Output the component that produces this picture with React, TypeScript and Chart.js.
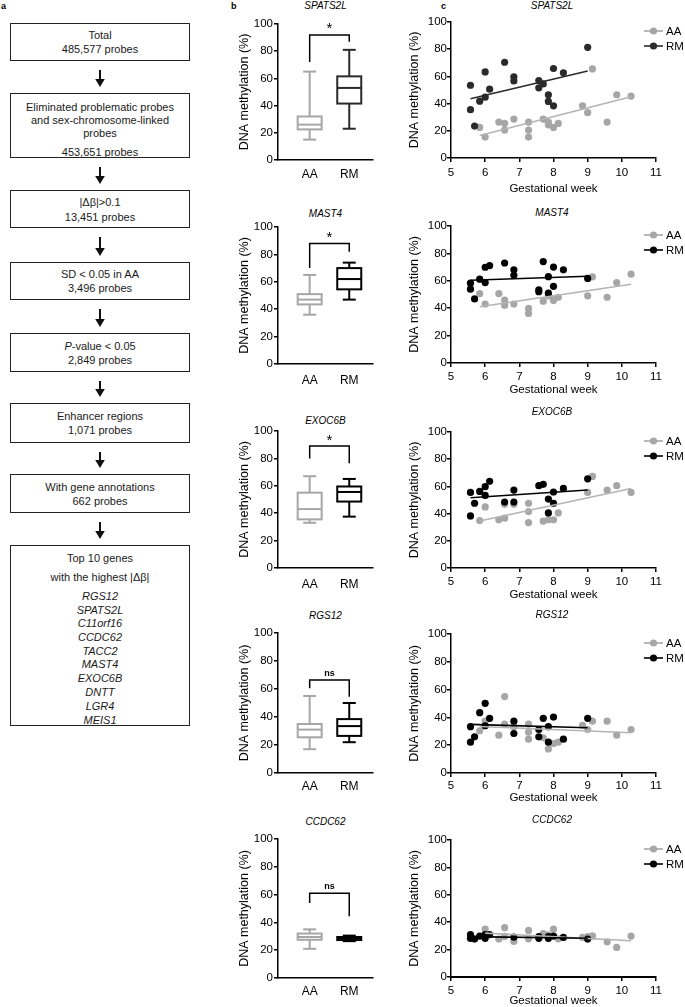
import React, { useEffect, useRef } from 'react';
import { Chart, registerables } from 'chart.js';

Chart.register(...registerables);

const FONT = "'Liberation Sans', Arial, Helvetica, sans-serif";
Chart.defaults.font.family = FONT;
Chart.defaults.color = '#000';

// ---------- data ----------
const GROUPS = ['AA', 'RM'];
const GENES = ['SPATS2L', 'MAST4', 'EXOC6B', 'RGS12', 'CCDC62'];

// box stats: [min, q1, median, q3, max]
const SPATS2L_BOX_AA = [15, 22.5, 26, 32, 65];
const SPATS2L_BOX_RM = [23, 41.5, 53, 61.5, 81];
const MAST4_BOX_AA = [36, 43.5, 47, 51, 65];
const MAST4_BOX_RM = [47, 54.5, 62, 70, 74];
const EXOC6B_BOX_AA = [33, 35.5, 43, 55, 67];
const EXOC6B_BOX_RM = [37.5, 48.5, 55.5, 59.5, 65];
const RGS12_BOX_AA = [17, 25.5, 31, 35, 55];
const RGS12_BOX_RM = [22, 26.5, 33.5, 38.5, 50];
const CCDC62_BOX_AA = [21, 27.5, 29.5, 32, 35];
const CCDC62_BOX_RM = [26.5, 27.3, 28.5, 29.5, 30.5];

// significance brackets: [top, left leg end, right leg end]
const SPATS2L_BRACKET = [92, 72, 87];
const MAST4_BRACKET = [88, 70, 82];
const EXOC6B_BRACKET = [89, 80, 76.5];
const RGS12_BRACKET = [66.5, 60.5, 54.5];
const CCDC62_BRACKET = [61, 54, 44.5];
const SIGNIF = ['*', '*', '*', 'ns', 'ns'];

// scatter points: [gestational week, methylation %]
const SPATS2L_RM = [[5.57,53.5],[5.57,35.5],[5.69,23.5],[5.84,41.8],[6.0,63.3],[6.0,44.7],[6.13,50.6],[6.57,70.4],[6.84,59.7],[6.84,56.7],[7.57,57],[7.57,51.6],[7.7,54.5],[7.85,46.5],[7.85,41.6],[8.0,65.8],[8.0,38.4],[8.29,62.6],[9.0,81.4]];
const SPATS2L_AA = [[5.84,22.5],[6.0,15.4],[6.4,26.4],[6.57,25.4],[6.57,20.5],[6.84,28.6],[7.27,26.4],[7.27,20.5],[7.27,15.4],[7.7,28.6],[7.85,26.4],[7.85,24.4],[8.0,22.5],[8.14,25.4],[8.85,38.4],[9.0,33.3],[9.14,65.5],[9.57,26.4],[9.85,46.5],[10.27,45.5]];
const MAST4_RM = [[5.57,58.3],[5.57,53.9],[5.69,46.8],[5.84,61.2],[6.0,69.9],[6.0,58.7],[6.13,71.1],[6.57,73],[6.84,68],[6.84,64],[7.57,53.4],[7.57,52],[7.7,74],[7.85,63],[7.85,51],[8.0,70],[8.0,56],[8.29,68],[9.0,61.7]];
const MAST4_AA = [[5.84,50.7],[6.0,43],[6.4,50.7],[6.57,46],[6.57,42.2],[6.84,43],[7.27,39.8],[7.27,36.2],[7.7,45.1],[7.85,49],[8.0,46.8],[8.0,45.6],[8.14,48],[9.0,49],[9.14,62.9],[9.57,48],[9.85,58.7],[10.27,64.8]];
const EXOC6B_RM = [[5.57,55.6],[5.57,38.3],[5.69,47.6],[5.84,56.3],[6.0,59.8],[6.0,53.4],[6.13,63.7],[6.57,48.5],[6.84,57.3],[6.84,48.5],[7.57,60.5],[7.7,61.5],[7.85,50.7],[7.85,40.5],[8.0,55.9],[8.0,47.6],[8.29,58.5],[9.0,65.6]];
const EXOC6B_AA = [[5.84,34.9],[6.0,44.9],[6.4,35.4],[6.57,36.6],[6.57,46.8],[6.84,46.8],[7.27,47.6],[7.27,41.5],[7.27,33.4],[7.7,34.4],[7.85,35.4],[8.0,35.4],[8.14,40.5],[9.0,55.6],[9.14,67.3],[9.57,57.3],[9.85,60.5],[10.27,55.6]];
const RGS12_RM = [[5.57,22.2],[5.57,33.3],[5.69,26],[5.84,43.4],[6.0,50.1],[6.0,34],[6.13,39.3],[6.84,37.3],[6.84,28.4],[7.57,31.3],[7.57,26],[7.7,39.3],[7.85,33.3],[7.85,22.2],[8.0,40.2],[8.29,24.3],[9.0,39.3]];
const RGS12_AA = [[5.84,30.4],[6.0,37.3],[6.4,27.2],[6.57,55],[6.57,35.2],[6.84,33.3],[7.27,35.2],[7.27,29.4],[7.27,24.3],[7.7,25.3],[7.85,17.3],[8.0,21.2],[8.14,22.2],[8.85,34.2],[9.0,31.3],[9.14,37.3],[9.57,37.3],[9.85,27.2],[10.27,31.3]];
const CCDC62_RM = [[5.57,31],[5.57,28.2],[5.69,27.7],[5.84,29.9],[6.0,28.2],[6.0,31],[6.13,31],[6.84,29.1],[7.57,28.2],[7.57,29.5],[7.85,28.2],[7.85,29.5],[8.0,29.9],[8.29,28.9],[9.0,27.7]];
const CCDC62_AA = [[6.0,35],[6.4,27.7],[6.57,36],[6.57,29.6],[6.84,26],[7.27,34],[7.27,27.9],[7.7,31.6],[7.85,30.8],[8.0,35],[8.14,27.9],[8.85,28.9],[9.0,29.4],[9.14,30],[9.57,25.7],[9.85,21.6],[10.27,29.9]];

// regression line end points
const SPATS2L_FIT_RM = [[5.57,43.5],[9.0,64]];
const SPATS2L_FIT_AA = [[5.84,16.5],[10.27,45]];
const MAST4_FIT_RM = [[5.57,60.4],[9.0,63.3]];
const MAST4_FIT_AA = [[5.84,41],[10.27,57.5]];
const EXOC6B_FIT_RM = [[5.57,51.7],[9.0,57.3]];
const EXOC6B_FIT_AA = [[5.84,34.5],[10.27,58.5]];
const RGS12_FIT_RM = [[5.57,35],[9.0,32.5]];
const RGS12_FIT_AA = [[5.84,33.5],[10.27,29]];
const CCDC62_FIT_RM = [[5.57,29.5],[9.0,28.3]];
const CCDC62_FIT_AA = [[6.0,32],[10.27,26.5]];

const BOX_AA = [SPATS2L_BOX_AA, MAST4_BOX_AA, EXOC6B_BOX_AA, RGS12_BOX_AA, CCDC62_BOX_AA];
const BOX_RM = [SPATS2L_BOX_RM, MAST4_BOX_RM, EXOC6B_BOX_RM, RGS12_BOX_RM, CCDC62_BOX_RM];
const BRACKETS = [SPATS2L_BRACKET, MAST4_BRACKET, EXOC6B_BRACKET, RGS12_BRACKET, CCDC62_BRACKET];
const PTS_AA = [SPATS2L_AA, MAST4_AA, EXOC6B_AA, RGS12_AA, CCDC62_AA];
const PTS_RM = [SPATS2L_RM, MAST4_RM, EXOC6B_RM, RGS12_RM, CCDC62_RM];
const FIT_AA = [SPATS2L_FIT_AA, MAST4_FIT_AA, EXOC6B_FIT_AA, RGS12_FIT_AA, CCDC62_FIT_AA];
const FIT_RM = [SPATS2L_FIT_RM, MAST4_FIT_RM, EXOC6B_FIT_RM, RGS12_FIT_RM, CCDC62_FIT_RM];

// ---------- layout / style ----------
const AA_COLOR = '#a6a6a6';
const AA_LINE = '#b4b4b4';
const RM_COLORS = ['#2a2a2a', '#000000', '#000000', '#000000', '#000000'];

const B_ROWS = [
  { y100: 24, y0: 160, t: 6, lab: 15 },
  { y100: 227, y0: 364, t: 214, lab: 17 },
  { y100: 431, y0: 568, t: 421, lab: 17 },
  { y100: 633, y0: 773, t: 616, lab: 14 },
  { y100: 839, y0: 978, t: 822, lab: 14 },
];
const C_ROWS = [
  { y100: 22, y0: 158, t: 6, tick: 15, ttl: 31 },
  { y100: 226, y0: 363, t: 213, tick: 14, ttl: 27 },
  { y100: 432, y0: 568, t: 412, tick: 14, ttl: 27 },
  { y100: 634, y0: 773, t: 615, tick: 13, ttl: 25 },
  { y100: 840, y0: 977, t: 820, tick: 14, ttl: 24 },
];

const toXY = (arr: number[][]) => arr.map(([x, y]) => ({ x, y }));

function CanvasChart({ left, top, width, height, make }: any) {
  const ref = useRef<HTMLCanvasElement | null>(null);
  useEffect(() => {
    const chart = new Chart(ref.current as HTMLCanvasElement, make());
    return () => chart.destroy();
  }, []);
  return (
    <div style={{ position: 'absolute', left, top, width, height }}>
      <canvas ref={ref} width={width} height={height} style={{ width, height, display: 'block' }} />
    </div>
  );
}

function boxPlugin(i: number) {
  return {
    id: 'boxPlot',
    afterDatasetsDraw(chart: any) {
      const { ctx, scales } = chart;
      const xs = scales.x, ys = scales.y;
      const py = (v: number) => ys.getPixelForValue(v);
      [BOX_AA[i], BOX_RM[i]].forEach((s, k) => {
        const cx = xs.getPixelForValue(k + 1);
        const col = k === 0 ? AA_COLOR : RM_COLORS[i];
        const half = 12, cap = 6.5;
        ctx.save();
        ctx.strokeStyle = col;
        ctx.lineWidth = 2;
        ctx.lineCap = 'butt';
        const seg = (x1: number, y1: number, x2: number, y2: number) => {
          ctx.beginPath(); ctx.moveTo(x1, y1); ctx.lineTo(x2, y2); ctx.stroke();
        };
        ctx.strokeRect(cx - half, py(s[3]), half * 2, py(s[1]) - py(s[3]));
        seg(cx, py(s[4]), cx, py(s[3]));
        seg(cx, py(s[1]), cx, py(s[0]));
        seg(cx - cap, py(s[4]), cx + cap, py(s[4]));
        seg(cx - cap, py(s[0]), cx + cap, py(s[0]));
        seg(cx - half, py(s[2]), cx + half, py(s[2]));
        ctx.restore();
      });
      const b = BRACKETS[i];
      const x1 = xs.getPixelForValue(1), x2 = xs.getPixelForValue(2);
      const yt = py(b[0]);
      ctx.save();
      ctx.strokeStyle = '#000';
      ctx.lineWidth = 1.5;
      ctx.beginPath();
      ctx.moveTo(x1, py(b[1]));
      ctx.lineTo(x1, yt);
      ctx.lineTo(x2, yt);
      ctx.lineTo(x2, py(b[2]));
      ctx.stroke();
      ctx.fillStyle = '#000';
      ctx.textAlign = 'center';
      ctx.textBaseline = 'alphabetic';
      const lab = SIGNIF[i];
      if (lab === '*') {
        ctx.font = `15px ${FONT}`;
        ctx.fillText(lab, (x1 + x2) / 2, yt - 1.5);
      } else {
        ctx.font = `bold 9px ${FONT}`;
        ctx.fillText(lab, (x1 + x2) / 2, yt - 4);
      }
      ctx.restore();
    },
  };
}

function boxConfig(i: number) {
  const r = B_ROWS[i];
  return {
    type: 'scatter',
    data: {
      datasets: [
        {
          data: [
            { x: 1, y: BOX_AA[i][2] },
            { x: 2, y: BOX_RM[i][2] },
          ],
          pointRadius: 0,
          showLine: false,
        },
      ],
    },
    options: {
      responsive: false,
      animation: false,
      events: [],
      layout: { padding: { top: 12, right: 7, left: 0, bottom: 0 } },
      plugins: { legend: { display: false }, tooltip: { enabled: false } },
      scales: {
        x: {
          type: 'linear',
          min: 0.2,
          max: 2.6,
          offset: false,
          afterBuildTicks: (s: any) => { s.ticks = [{ value: 1 }, { value: 2 }]; },
          ticks: {
            callback: (v: number) => GROUPS[Math.round(v) - 1] ?? '',
            font: { size: 12 },
            color: '#000',
            padding: r.lab - 7.2,
            maxRotation: 0,
            autoSkip: false,
          },
          grid: { display: true, drawOnChartArea: false, drawTicks: false, color: '#000', lineWidth: 1.5 },
          border: { display: true, color: '#000', width: 1.5 },
          afterFit: (s: any) => { s.height = 34; },
        },
        y: {
          min: 0,
          max: 100,
          ticks: { stepSize: 20, font: { size: 11.5 }, color: '#000', padding: 1 },
          grid: { drawOnChartArea: false, drawTicks: true, tickLength: 4, color: '#000', lineWidth: 1.5 },
          border: { display: true, color: '#000', width: 1.5 },
          title: { display: true, text: 'DNA methylation (%)', font: { size: 12.5 }, color: '#000', padding: { top: 7.5, bottom: 0 } },
          afterFit: (s: any) => { s.width = 48; },
        },
      },
    },
    plugins: [boxPlugin(i)],
  };
}

function legendPlugin(i: number) {
  return {
    id: 'pairLegend',
    afterDraw(chart: any) {
      const { ctx } = chart;
      const top = chart.chartArea.top;
      const items: [string, string, number][] = [
        ['AA', AA_COLOR, top + 9],
        ['RM', RM_COLORS[i], top + 24],
      ];
      items.forEach(([t, c, y]) => {
        ctx.save();
        ctx.strokeStyle = c;
        ctx.fillStyle = c;
        ctx.lineWidth = 1.6;
        ctx.beginPath(); ctx.moveTo(254, y); ctx.lineTo(273, y); ctx.stroke();
        ctx.beginPath(); ctx.arc(263.5, y, 3.6, 0, Math.PI * 2); ctx.fill();
        ctx.fillStyle = '#000';
        ctx.font = `11.5px ${FONT}`;
        ctx.textBaseline = 'middle';
        ctx.textAlign = 'left';
        ctx.fillText(t, 276, y + 0.5);
        ctx.restore();
      });
    },
  };
}

function scatterConfig(i: number) {
  const r = C_ROWS[i];
  const rm = RM_COLORS[i];
  const xh = 48;
  return {
    type: 'scatter',
    data: {
      datasets: [
        { data: toXY(FIT_RM[i]), showLine: true, borderColor: rm, borderWidth: 1.6, pointRadius: 0, fill: false },
        { data: toXY(FIT_AA[i]), showLine: true, borderColor: AA_LINE, borderWidth: 1.6, pointRadius: 0, fill: false },
        { data: toXY(PTS_RM[i]), backgroundColor: rm, borderColor: rm, borderWidth: 0, pointRadius: 3.6 },
        { data: toXY(PTS_AA[i]), backgroundColor: AA_COLOR, borderColor: AA_COLOR, borderWidth: 0, pointRadius: 3.6 },
      ],
    },
    options: {
      responsive: false,
      animation: false,
      events: [],
      layout: { padding: { top: 12, right: 29, left: 0, bottom: 0 } },
      plugins: { legend: { display: false }, tooltip: { enabled: false } },
      scales: {
        x: {
          type: 'linear',
          min: 5,
          max: 11,
          ticks: { stepSize: 1, font: { size: 11.5 }, color: '#000', padding: r.tick - 4 - 6.9, maxRotation: 0 },
          grid: { drawOnChartArea: false, drawTicks: true, tickLength: 4, color: '#000', lineWidth: 1.5 },
          border: i === 4
            ? { display: true, color: '#000', width: 2, dash: [1.5, 1.5] }
            : { display: true, color: '#000', width: 1.5 },
          title: {
            display: true,
            text: 'Gestational week',
            font: { size: 11.5 },
            color: '#000',
            padding: { top: 0, bottom: Math.max(0, xh - 6.9 - r.ttl) },
          },
          afterFit: (s: any) => { s.height = xh; },
        },
        y: {
          min: 0,
          max: 100,
          ticks: { stepSize: 20, font: { size: 11.5 }, color: '#000', padding: 0 },
          grid: { drawOnChartArea: false, drawTicks: true, tickLength: 4, color: '#000', lineWidth: 1.5 },
          border: { display: true, color: '#000', width: 1.5 },
          title: { display: true, text: 'DNA methylation (%)', font: { size: 12.5 }, color: '#000', padding: { top: 17.5, bottom: 0 } },
          afterFit: (s: any) => { s.width = 61; },
        },
      },
    },
    plugins: [legendPlugin(i)],
  };
}

// ---------- flow chart (panel a) ----------
const TEXT = '#1a1a1a';
const FLOW: { top: number; bottom: number; lines: [any, number, boolean?][] }[] = [
  { top: 23, bottom: 61, lines: [['Total', 35], ['485,577 probes', 49]] },
  { top: 93, bottom: 158, lines: [['Eliminated problematic probes', 107], ['and sex-chromosome-linked', 120], ['probes', 133], ['453,651 probes', 152]] },
  { top: 190, bottom: 228, lines: [['|Δβ|>0.1', 202], ['13,451 probes', 217]] },
  { top: 262, bottom: 300, lines: [['SD < 0.05 in AA', 274], ['3,496 probes', 288]] },
  { top: 333, bottom: 372, lines: [[<span><i>P</i>-value &lt; 0.05</span>, 346], ['2,849 probes', 360]] },
  { top: 403, bottom: 443, lines: [['Enhancer regions', 416], ['1,071 probes', 430]] },
  { top: 474, bottom: 513, lines: [['With gene annotations', 487], ['662 probes', 501]] },
  {
    top: 545,
    bottom: 726,
    lines: [
      ['Top 10 genes', 558],
      ['with the highest |Δβ|', 577],
      ['RGS12', 596, true],
      ['SPATS2L', 610, true],
      ['C11orf16', 623, true],
      ['CCDC62', 637, true],
      ['TACC2', 651, true],
      ['MAST4', 664, true],
      ['EXOC6B', 678, true],
      ['DNTT', 692, true],
      ['LGR4', 706, true],
      ['MEIS1', 720, true],
    ],
  },
];
const BOX_L = 10, BOX_R = 190, ARROW_X = 100;

function Flow() {
  const arrows = FLOW.slice(0, -1).map((b, k) => ({ y1: b.bottom + 9, y2: FLOW[k + 1].top - 6 }));
  return (
    <>
      {FLOW.map((b, k) => (
        <div
          key={k}
          style={{
            position: 'absolute',
            left: BOX_L,
            top: b.top,
            width: BOX_R - BOX_L,
            height: b.bottom - b.top,
            border: '1.5px solid #222',
            boxSizing: 'border-box',
          }}
        />
      ))}
      {FLOW.map((b, k) =>
        b.lines.map(([t, y, it], j) => (
          <div
            key={`${k}-${j}`}
            style={{
              position: 'absolute',
              left: BOX_L,
              width: BOX_R - BOX_L,
              top: y - 7,
              height: 14,
              lineHeight: '14px',
              textAlign: 'center',
              fontSize: 11,
              fontStyle: it ? 'italic' : 'normal',
              color: TEXT,
              whiteSpace: 'nowrap',
            }}
          >
            {t}
          </div>
        ))
      )}
      <svg style={{ position: 'absolute', left: 0, top: 0 }} width={200} height={740}>
        {arrows.map((a, k) => (
          <g key={k}>
            <line x1={ARROW_X} x2={ARROW_X} y1={a.y1} y2={a.y2 - 6} stroke="#111" strokeWidth={2} />
            <polygon points={`${ARROW_X - 4.8},${a.y2 - 8} ${ARROW_X + 4.8},${a.y2 - 8} ${ARROW_X},${a.y2}`} fill="#111" />
          </g>
        ))}
      </svg>
    </>
  );
}

export default function App() {
  return (
    <div
      style={{
        position: 'absolute',
        left: 0,
        top: 0,
        width: 685,
        height: 1007,
        overflow: 'hidden',
        background: '#fff',
        fontFamily: FONT,
        color: '#000',
      }}
    >
      <div style={{ position: 'absolute', left: 1, top: 1, fontSize: 9, fontWeight: 'bold' }}>a</div>
      <div style={{ position: 'absolute', left: 231, top: 1, fontSize: 9, fontWeight: 'bold' }}>b</div>
      <div style={{ position: 'absolute', left: 441, top: 1, fontSize: 9, fontWeight: 'bold' }}>c</div>
      <Flow />
      {GENES.map((g, i) => (
        <React.Fragment key={g}>
          <div
            style={{
              position: 'absolute',
              left: 325.5 - 50,
              width: 100,
              top: B_ROWS[i].t - 6,
              height: 12,
              lineHeight: '12px',
              textAlign: 'center',
              fontSize: 10,
              fontStyle: 'italic',
            }}
          >
            {g}
          </div>
          <div
            style={{
              position: 'absolute',
              left: 552 - 50,
              width: 100,
              top: C_ROWS[i].t - 6,
              height: 12,
              lineHeight: '12px',
              textAlign: 'center',
              fontSize: 10,
              fontStyle: 'italic',
            }}
          >
            {g}
          </div>
          <CanvasChart
            left={230}
            top={B_ROWS[i].y100 - 12}
            width={150}
            height={B_ROWS[i].y0 - B_ROWS[i].y100 + 12 + 34}
            make={() => boxConfig(i)}
          />
          <CanvasChart
            left={390}
            top={C_ROWS[i].y100 - 12}
            width={295}
            height={C_ROWS[i].y0 - C_ROWS[i].y100 + 12 + 48}
            make={() => scatterConfig(i)}
          />
        </React.Fragment>
      ))}
    </div>
  );
}
